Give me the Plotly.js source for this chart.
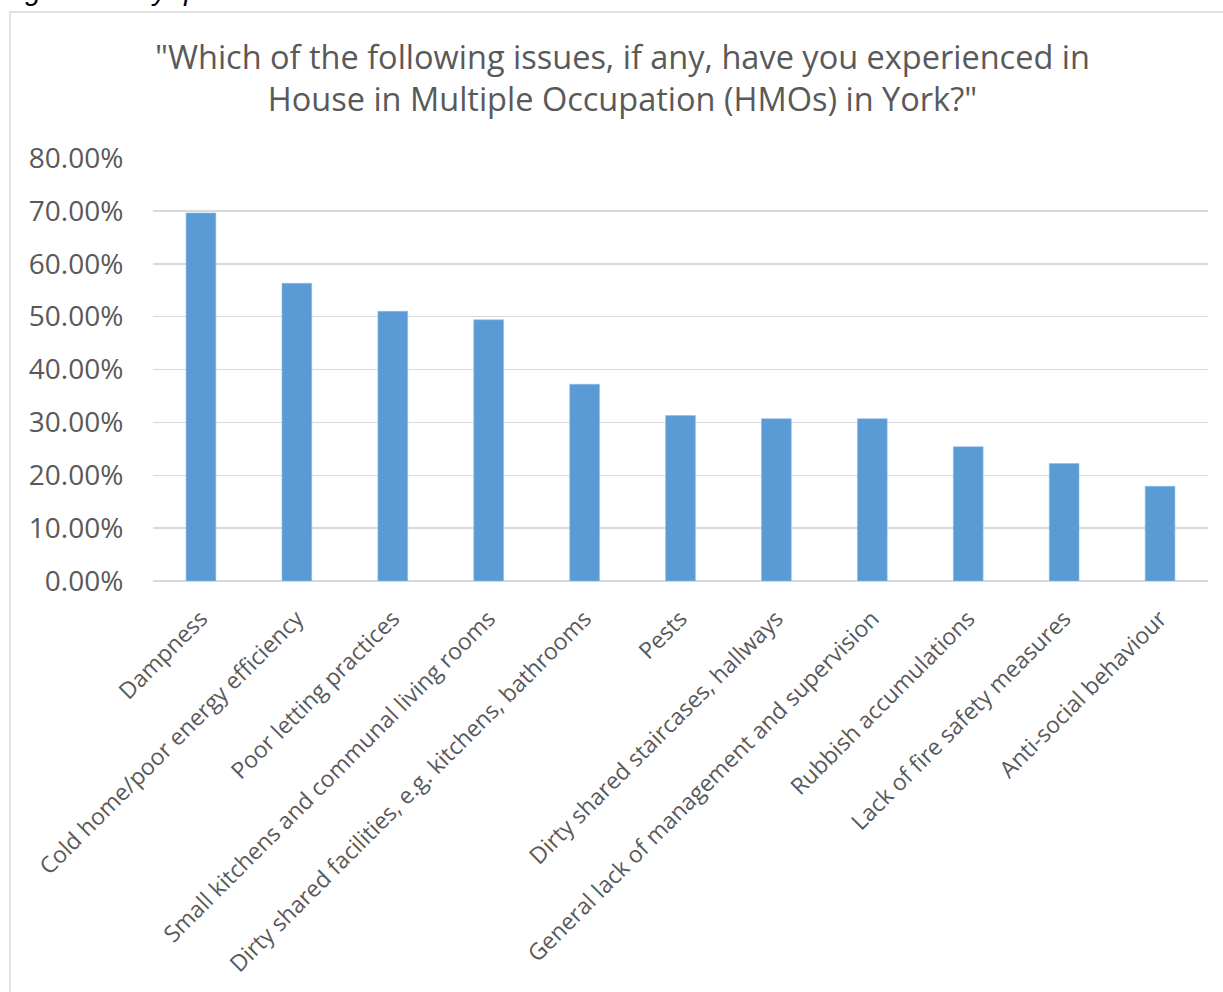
<!DOCTYPE html>
<html>
<head>
<meta charset="utf-8">
<script src="https://cdn.plot.ly/plotly-3.0.1.min.js"></script>
<style>html,body{margin:0;padding:0;background:#fff;}#chart{width:1223px;height:992px;}</style>
</head>
<body>
<div id="chart"></div>
<script>
const categories = [
  "Dampness",
  "Cold home/poor energy efficiency",
  "Poor letting practices",
  "Small kitchens and communal living rooms",
  "Dirty shared facilities, e.g. kitchens, bathrooms",
  "Pests",
  "Dirty shared staircases, hallways",
  "General lack of management and supervision",
  "Rubbish accumulations",
  "Lack of fire safety measures",
  "Anti-social behaviour"
];
const values = [0.696, 0.563, 0.510, 0.494, 0.372, 0.313, 0.307, 0.307, 0.254, 0.222, 0.179];
const yTicks = [0, 0.1, 0.2, 0.3, 0.4, 0.5, 0.6, 0.7, 0.8];
const yTickLabels = ["0.00%", "10.00%", "20.00%", "30.00%", "40.00%", "50.00%", "60.00%", "70.00%", "80.00%"];
const titleText = '"Which of the following issues, if any, have you experienced in<br>House in Multiple Occupation (HMOs) in York?"';
const captionText = "Fig 5: Survey question: Issues in HMOs";

const L = 153, R = 15, T = 158, B = 411;
const W = 1223, H = 992;
const pw = W - L - R, ph = H - T - B;
const px = x => (x - L) / pw;
const py = y => (H - B - y) / ph;

const trace = {
  type: 'bar',
  x: categories,
  y: values,
  marker: {color: '#5b9bd5', line: {color: '#8fbbe6', width: 0.6}},
  hoverinfo: 'x+y'
};

const layout = {
  width: W, height: H,
  margin: {l: L, r: R, t: T, b: B, autoexpand: false},
  paper_bgcolor: '#ffffff',
  plot_bgcolor: '#ffffff',
  bargap: 0.69,
  showlegend: false,
  font: {family: 'Open Sans, sans-serif', color: '#595959'},
  xaxis: {
    type: 'category',
    tickangle: -45,
    tickfont: {family: 'Open Sans, sans-serif', size: 23, color: '#595959'},
    showline: false, ticks: 'outside', ticklen: 14, tickcolor: 'rgba(0,0,0,0)',
    showgrid: false,
    automargin: false
  },
  yaxis: {
    range: [0, 0.8],
    tickvals: yTicks,
    ticktext: yTickLabels,
    tickfont: {family: 'Open Sans, sans-serif', size: 28, color: '#595959'},
    showgrid: true, gridcolor: '#d9d9d9', gridwidth: 1.5,
    zeroline: true, zerolinecolor: '#d9d9d9', zerolinewidth: 1.5,
    showline: false, ticks: 'outside', ticklen: 23, tickcolor: 'rgba(0,0,0,0)',
    automargin: false
  },
  shapes: [{
    type: 'rect', xref: 'paper', yref: 'paper',
    x0: px(10), x1: px(1240), y0: py(1010), y1: py(12),
    line: {color: '#d9d9d9', width: 1.5}, fillcolor: 'rgba(0,0,0,0)', layer: 'below'
  }],
  annotations: [{
    text: titleText,
    xref: 'paper', yref: 'paper', x: px(622), y: py(77),
    xanchor: 'center', yanchor: 'middle', showarrow: false,
    font: {family: 'Open Sans, sans-serif', size: 32.5, color: '#595959'}
  }, {
    text: '<i>' + captionText + '</i>',
    xref: 'paper', yref: 'paper', x: px(0), y: py(-10),
    xanchor: 'left', yanchor: 'middle', showarrow: false,
    font: {family: 'Liberation Sans, sans-serif', size: 28, color: '#000000'}
  }]
};

Plotly.newPlot('chart', [trace], layout, {displayModeBar: false, staticPlot: true});
</script>
</body>
</html>
